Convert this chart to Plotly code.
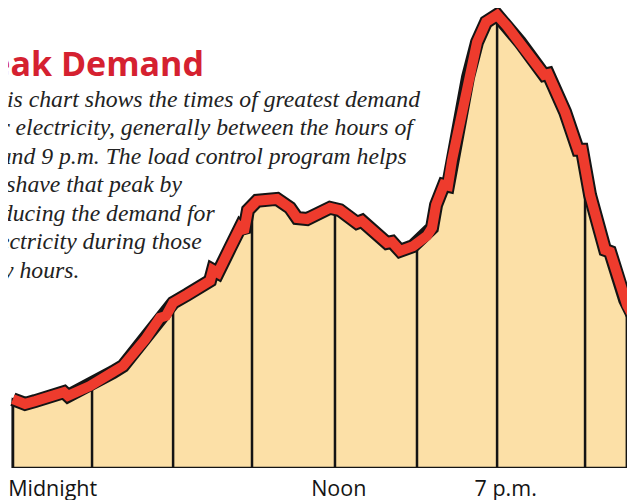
import numpy as np
import plotly.graph_objects as go

# Hours after midnight (negative = evening of the previous day)
hours = [-1.67, -1.16, -0.74, -0.11, 0.47, 0.64, 1.56, 2.53, 2.95, 3.87, 4.50, 4.75,
         5.05, 5.63, 6.18, 6.60, 6.72, 6.93, 7.44, 7.86, 8.02, 8.19, 8.57, 9.41,
         9.95, 10.25, 10.67, 11.13, 11.63, 12.05, 12.76, 12.97, 13.52, 14.02, 14.23,
         14.57, 15.11, 15.70, 15.91, 16.08, 16.41, 16.58, 16.75, 16.92, 17.17, 17.42,
         17.80, 18.18, 18.64, 19.06, 19.27, 19.60, 20.61, 20.78, 21.49, 22.03, 22.20,
         22.54, 23.17, 23.38, 24.01, 24.09, 24.43]
# Relative electricity demand (0-100)
demand = [14.7, 13.7, 14.3, 15.2, 16.2, 15.4, 17.5, 20.5, 21.8, 27.4, 32.1, 32.5,
          35.3, 37.0, 38.7, 40.0, 42.3, 41.7, 47.0, 51.3, 50.4, 55.1, 57.1, 57.5,
          55.6, 53.4, 53.2, 54.5, 55.6, 55.1, 52.4, 52.8, 50.2, 48.1, 48.3,
          46.4, 47.4, 49.6, 51.3, 56.2, 60.5, 60.3, 65.8, 70.1, 76.9, 83.5,
          91.0, 95.3, 96.8, 94.4, 93.0, 91.0, 84.0, 84.2, 76.1, 68.0, 68.0,
          58.3, 46.6, 46.2, 35.9, 34.8, 31.6]

# Divider lines of the drawing (hours)
dividers = [-1.67, 1.65, 5.05, 8.36, 11.84, 15.28, 18.64, 22.33, 24.09]
area_end = 24.09

tick_vals = [0, 12, 19]
tick_text = ["Midnight", "Noon", "7 p.m."]

title_text = "Peak Demand"
body_lines = [
    "This chart shows the times of greatest demand",
    "for electricity, generally between the hours of",
    "5 and 9 p.m. The load control program helps",
    "to shave that peak by",
    "reducing the demand for",
    "electricity during those",
    "key hours.",
]

TAN = "#FCE0A7"
RED = "#EE3B2D"
TITLE_RED = "#D52130"
INK = "#141414"

h = np.array(hours)
d = np.array(demand)
mask = h <= area_end
ax = list(h[mask])
ad = list(d[mask])

fig = go.Figure()

# filled area (closed polygon incl. baseline)
fig.add_trace(go.Scatter(
    x=[ax[0]] + ax + [ax[-1], ax[0]],
    y=[0] + ad + [0, 0],
    mode="lines", fill="toself", fillcolor=TAN,
    line=dict(color=INK, width=2.5), hoverinfo="skip", showlegend=False))

# divider lines
vx, vy = [], []
for dv in dividers:
    top = float(np.interp(dv, h, d))
    vx += [dv, dv, None]
    vy += [0, top, None]
fig.add_trace(go.Scatter(x=vx, y=vy, mode="lines",
                         line=dict(color=INK, width=2.5),
                         hoverinfo="skip", showlegend=False))

# red demand band with black outline
fig.add_trace(go.Scatter(x=hours, y=demand, mode="lines",
                         line=dict(color=INK, width=14),
                         hoverinfo="skip", showlegend=False))
fig.add_trace(go.Scatter(x=hours, y=demand, mode="lines",
                         line=dict(color=RED, width=10),
                         hoverinfo="skip", showlegend=False))

PLOT_H = 460.0
fig.add_annotation(text="<b>" + title_text + "</b>", xref="paper", yref="paper",
                   x=0.3118, y=0.8804, xanchor="right", yanchor="middle",
                   showarrow=False,
                   font=dict(family="Open Sans", size=34, color=TITLE_RED))

first_center = 90.7
line_step = 28.5
for i, line in enumerate(body_lines):
    yc = first_center + i * line_step
    fig.add_annotation(text="<i>" + line + "</i>", xref="paper", yref="paper",
                       x=-0.0441, y=1 - yc / PLOT_H, xanchor="left",
                       yanchor="middle", align="left", showarrow=False,
                       font=dict(family="Liberation Serif", size=23.7,
                                 color="#222222"))

fig.update_xaxes(range=[-1.875, 24.76], showgrid=False, zeroline=False,
                 showline=False, tickvals=tick_vals, ticktext=tick_text,
                 ticks="", ticklabelstandoff=5,
                 tickfont=dict(family="Open Sans", size=21.5, color=INK))
fig.update_yaxes(range=[0, 98.29], showgrid=False, zeroline=False,
                 showline=False, showticklabels=False)

fig.update_layout(width=635, height=500,
                  margin=dict(l=0, r=0, t=0, b=40),
                  plot_bgcolor="white", paper_bgcolor="white")

fig.write_html("out.html")
